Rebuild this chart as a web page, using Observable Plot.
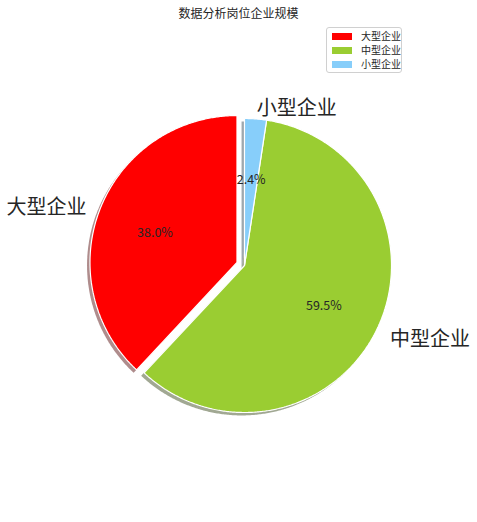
<!DOCTYPE html>
<html><head><meta charset="utf-8">
<script src="https://cdn.jsdelivr.net/npm/d3@7"></script>
<script src="https://cdn.jsdelivr.net/npm/@observablehq/plot@0.6"></script>
<style>
body{margin:0;background:#fff;font-family:"Noto Sans CJK SC","Noto Sans",sans-serif;}
#wrap{position:relative;width:477px;height:522px;overflow:hidden;}
#chart{position:absolute;left:0;top:0;}
#title{position:absolute;top:4px;left:0;width:477px;text-align:center;font-size:12px;color:#262626;line-height:18px;}
#legend{position:absolute;left:326px;top:27px;width:74px;height:43px;padding:1px 0 0 0;border:1px solid #d0d0d0;border-radius:3px;background:rgba(255,255,255,0.8);font-size:10px;color:#262626;}
#legend .row{display:flex;align-items:center;height:14px;line-height:14px;}
#legend .sw{width:20px;height:7px;margin-left:5px;margin-right:9px;}
</style></head><body>
<div id="wrap"><div id="chart"></div><div id="title">数据分析岗位企业规模</div><div id="legend"></div></div>
<script>
const categories = ["大型企业", "中型企业", "小型企业"];
const values = [38.0, 59.5, 2.4];
const colors = ["#ff0000", "#9acd32", "#87cefa"];
const explode = [0.055, 0, 0];
const titleText = "数据分析岗位企业规模";

const W = 477, H = 522, R = 147, cx = 244, cy = 265;
const arcs = d3.pie().sort(null).value(d => d)(values);

const slices = arcs.map((a, i) => {
  const t0 = Math.PI / 2 + a.startAngle, t1 = Math.PI / 2 + a.endAngle;
  const tm = (t0 + t1) / 2;
  const ox = explode[i] * Math.cos(tm), oy = explode[i] * Math.sin(tm);
  const n = Math.max(4, Math.ceil((t1 - t0) / (Math.PI / 360)));
  const pts = [{x: ox, y: oy}];
  for (let k = 0; k <= n; k++) {
    const t = t0 + (t1 - t0) * k / n;
    pts.push({x: ox + Math.cos(t), y: oy + Math.sin(t)});
  }
  pts.push({x: ox, y: oy});
  return {name: categories[i], value: values[i], color: colors[i], tm, ox, oy, pts};
});

const shadowColor = c => { const r = d3.rgb(c); return d3.rgb(r.r * 0.3, r.g * 0.3, r.b * 0.3).formatHex(); };

const marks = [];
for (const s of slices) {
  marks.push(Plot.line(s.pts, {x: d => d.x - 0.02, y: d => d.y - 0.02, fill: shadowColor(s.color), fillOpacity: 0.45, stroke: "none", curve: "linear"}));
}
for (const s of slices) {
  marks.push(Plot.line(s.pts, {x: "x", y: "y", fill: s.color, stroke: "white", strokeWidth: 1.2, strokeLinejoin: "miter"}));
}
for (const s of slices) {
  const lx = s.ox + 1.1 * Math.cos(s.tm), ly = s.oy + 1.1 * Math.sin(s.tm);
  marks.push(Plot.text([s], {x: () => lx, y: () => ly, dy: 4, text: "name", fontSize: 20, fill: "#262626", textAnchor: lx < 0 ? "end" : "start"}));
  const px = s.ox + 0.6 * Math.cos(s.tm), py = s.oy + 0.6 * Math.sin(s.tm);
  marks.push(Plot.text([s], {x: () => px, y: () => py, dy: 2.5, text: d => d.value.toFixed(1) + "%", fontSize: 12.5, fill: "#262626"}));
}

const chart = Plot.plot({
  width: W, height: H, margin: 0,
  x: {domain: [-cx / R, (W - cx) / R], axis: null},
  y: {domain: [-(H - cy) / R, cy / R], axis: null},
  style: {fontFamily: '"Noto Sans CJK SC", sans-serif', background: "transparent"},
  marks
});
document.getElementById("chart").appendChild(chart);

const leg = document.getElementById("legend");
categories.forEach((c, i) => {
  const row = document.createElement("div"); row.className = "row";
  const sw = document.createElement("div"); sw.className = "sw"; sw.style.background = colors[i];
  const tx = document.createElement("span"); tx.textContent = c;
  row.appendChild(sw); row.appendChild(tx); leg.appendChild(row);
});
document.getElementById("title").textContent = titleText;
</script>
</body></html>
